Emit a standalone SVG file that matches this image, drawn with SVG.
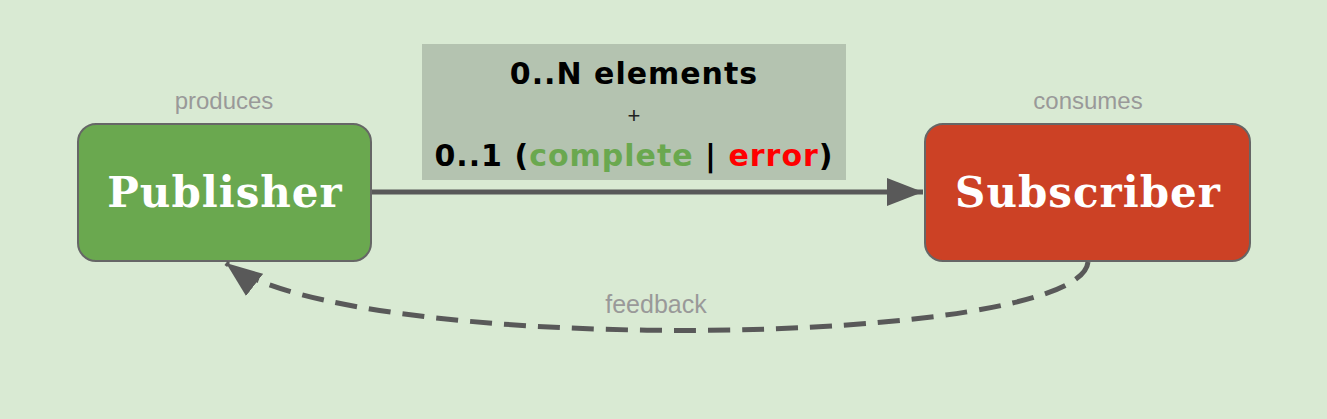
<svg xmlns="http://www.w3.org/2000/svg" width="1327" height="419" viewBox="0 0 1327 419">
<defs>
<style>
.node{stroke:#666;stroke-width:2}
.title{font-family:"DejaVu Serif",serif;font-weight:bold;font-size:42px;letter-spacing:1px;fill:#fff;text-anchor:middle}
.cap{font-family:"Liberation Sans",Arial,sans-serif;font-size:24px;fill:#999;text-anchor:middle}
.lbl{font-family:"DejaVu Sans",sans-serif;font-weight:bold;font-size:30px;letter-spacing:1px;fill:#000;text-anchor:middle}
.conn{fill:none;stroke:#595959;stroke-width:5}
</style>
<marker id="ah" markerUnits="userSpaceOnUse" markerWidth="38" markerHeight="30" refX="36" refY="15" orient="auto">
<path d="M0,1 L36,15 L0,29 Z" fill="#595959"/>
</marker>
</defs>
<rect width="1327" height="419" fill="#d9ead3"/>
<g id="label">
<rect x="422" y="44" width="424" height="136" fill="#b4c3b0"/>
<text class="lbl" x="634" y="84">0..N elements</text>
<text x="634" y="123" text-anchor="middle" font-family="Liberation Sans,Arial,sans-serif" font-size="22" fill="#222">+</text>
<text class="lbl" x="634" y="166">0..1 (<tspan fill="#6aa84f">complete</tspan> | <tspan fill="#ff0000">error</tspan>)</text>
</g>
<g id="publisher">
<text class="cap" x="224" y="109">produces</text>
<rect class="node" x="78" y="124" width="293" height="137" rx="18" fill="#6aa84f"/>
<text class="title" x="225" y="207">Publisher</text>
</g>
<g id="subscriber">
<text class="cap" x="1088" y="109">consumes</text>
<rect class="node" x="925" y="124" width="325" height="137" rx="18" fill="#cc4125"/>
<text class="title" x="1088" y="207">Subscriber</text>
</g>
<g id="connectors">
<line class="conn" x1="372" y1="192" x2="923" y2="192" marker-end="url(#ah)"/>
<path class="conn" d="M1088,262 C1080,348 350,358 226,263" stroke-dasharray="22,12" marker-end="url(#ah)"/>
<text x="656" y="313" text-anchor="middle" font-family="Liberation Sans,Arial,sans-serif" font-size="25" fill="#999">feedback</text>
</g>
</svg>
